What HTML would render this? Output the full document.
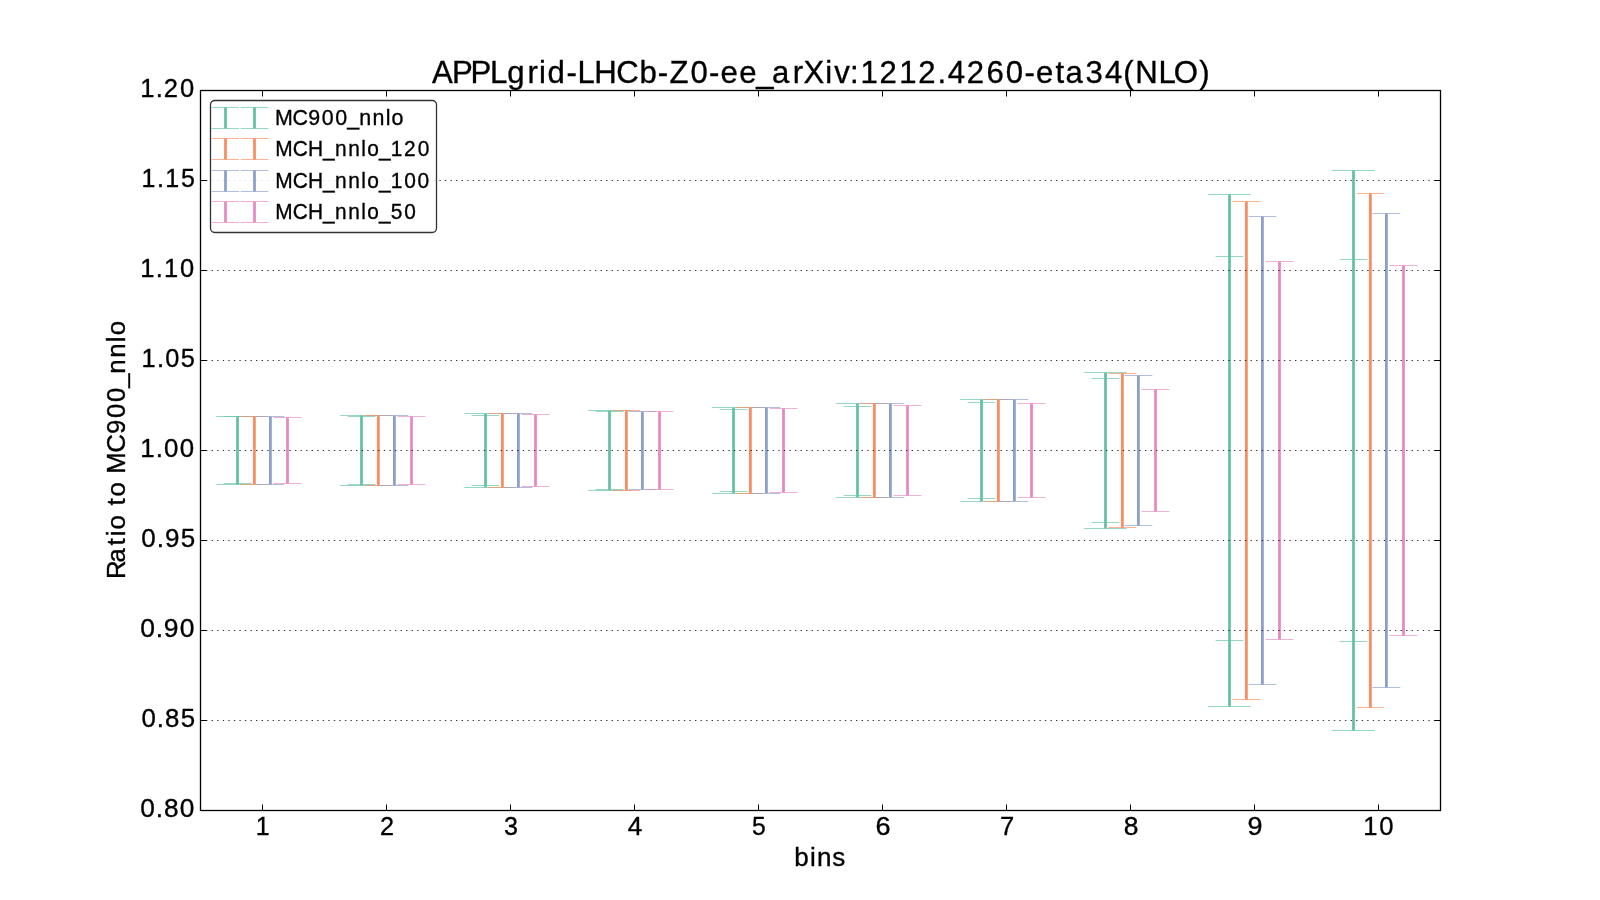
<!DOCTYPE html>
<html><head><meta charset="utf-8"><title>APPLgrid-LHCb-Z0-ee_arXiv:1212.4260-eta34(NLO)</title>
<style>
html,body{margin:0;padding:0;background:#fff;width:1600px;height:900px;overflow:hidden;}
svg{display:block;will-change:transform;}
text{font-family:"Liberation Sans",sans-serif;fill:#000;stroke:#000;stroke-width:0.35px;}
</style></head><body>
<svg width="1600" height="900" viewBox="0 0 1600 900">
<rect x="0" y="0" width="1600" height="900" fill="#fff"/>
<g><line x1="237.50" y1="416.5" x2="237.50" y2="484.5" stroke="#66c2a5" stroke-width="2.8"/><line x1="216.20" y1="416.5" x2="258.80" y2="416.5" stroke="#66c2a5" stroke-width="1.0" stroke-opacity="0.68"/><line x1="216.20" y1="484.5" x2="258.80" y2="484.5" stroke="#66c2a5" stroke-width="1.0" stroke-opacity="0.68"/><line x1="223.60" y1="416.5" x2="251.40" y2="416.5" stroke="#66c2a5" stroke-width="1.0" stroke-opacity="0.68"/><line x1="223.60" y1="483.5" x2="251.40" y2="483.5" stroke="#66c2a5" stroke-width="1.0" stroke-opacity="0.68"/><line x1="254.40" y1="416.5" x2="254.40" y2="484.5" stroke="#fc8d62" stroke-width="2.8"/><line x1="240.50" y1="416.5" x2="268.30" y2="416.5" stroke="#fc8d62" stroke-width="1.0" stroke-opacity="0.68"/><line x1="240.50" y1="484.5" x2="268.30" y2="484.5" stroke="#fc8d62" stroke-width="1.0" stroke-opacity="0.68"/><line x1="270.40" y1="416.5" x2="270.40" y2="484.5" stroke="#8da0cb" stroke-width="2.8"/><line x1="256.50" y1="416.5" x2="284.30" y2="416.5" stroke="#8da0cb" stroke-width="1.0" stroke-opacity="0.68"/><line x1="256.50" y1="484.5" x2="284.30" y2="484.5" stroke="#8da0cb" stroke-width="1.0" stroke-opacity="0.68"/><line x1="287.50" y1="417.5" x2="287.50" y2="483.5" stroke="#e78ac3" stroke-width="2.8"/><line x1="273.60" y1="417.5" x2="301.40" y2="417.5" stroke="#e78ac3" stroke-width="1.0" stroke-opacity="0.68"/><line x1="273.60" y1="483.5" x2="301.40" y2="483.5" stroke="#e78ac3" stroke-width="1.0" stroke-opacity="0.68"/><line x1="361.50" y1="415.5" x2="361.50" y2="485.5" stroke="#66c2a5" stroke-width="2.8"/><line x1="340.20" y1="415.5" x2="382.80" y2="415.5" stroke="#66c2a5" stroke-width="1.0" stroke-opacity="0.68"/><line x1="340.20" y1="485.5" x2="382.80" y2="485.5" stroke="#66c2a5" stroke-width="1.0" stroke-opacity="0.68"/><line x1="347.60" y1="416.5" x2="375.40" y2="416.5" stroke="#66c2a5" stroke-width="1.0" stroke-opacity="0.68"/><line x1="347.60" y1="484.5" x2="375.40" y2="484.5" stroke="#66c2a5" stroke-width="1.0" stroke-opacity="0.68"/><line x1="378.40" y1="415.5" x2="378.40" y2="485.5" stroke="#fc8d62" stroke-width="2.8"/><line x1="364.50" y1="415.5" x2="392.30" y2="415.5" stroke="#fc8d62" stroke-width="1.0" stroke-opacity="0.68"/><line x1="364.50" y1="485.5" x2="392.30" y2="485.5" stroke="#fc8d62" stroke-width="1.0" stroke-opacity="0.68"/><line x1="394.40" y1="415.5" x2="394.40" y2="485.5" stroke="#8da0cb" stroke-width="2.8"/><line x1="380.50" y1="415.5" x2="408.30" y2="415.5" stroke="#8da0cb" stroke-width="1.0" stroke-opacity="0.68"/><line x1="380.50" y1="485.5" x2="408.30" y2="485.5" stroke="#8da0cb" stroke-width="1.0" stroke-opacity="0.68"/><line x1="411.50" y1="416.5" x2="411.50" y2="484.5" stroke="#e78ac3" stroke-width="2.8"/><line x1="397.60" y1="416.5" x2="425.40" y2="416.5" stroke="#e78ac3" stroke-width="1.0" stroke-opacity="0.68"/><line x1="397.60" y1="484.5" x2="425.40" y2="484.5" stroke="#e78ac3" stroke-width="1.0" stroke-opacity="0.68"/><line x1="485.50" y1="413.5" x2="485.50" y2="487.5" stroke="#66c2a5" stroke-width="2.8"/><line x1="464.20" y1="413.5" x2="506.80" y2="413.5" stroke="#66c2a5" stroke-width="1.0" stroke-opacity="0.68"/><line x1="464.20" y1="487.5" x2="506.80" y2="487.5" stroke="#66c2a5" stroke-width="1.0" stroke-opacity="0.68"/><line x1="471.60" y1="415.5" x2="499.40" y2="415.5" stroke="#66c2a5" stroke-width="1.0" stroke-opacity="0.68"/><line x1="471.60" y1="485.5" x2="499.40" y2="485.5" stroke="#66c2a5" stroke-width="1.0" stroke-opacity="0.68"/><line x1="502.40" y1="413.5" x2="502.40" y2="487.5" stroke="#fc8d62" stroke-width="2.8"/><line x1="488.50" y1="413.5" x2="516.30" y2="413.5" stroke="#fc8d62" stroke-width="1.0" stroke-opacity="0.68"/><line x1="488.50" y1="487.5" x2="516.30" y2="487.5" stroke="#fc8d62" stroke-width="1.0" stroke-opacity="0.68"/><line x1="518.40" y1="413.5" x2="518.40" y2="487.5" stroke="#8da0cb" stroke-width="2.8"/><line x1="504.50" y1="413.5" x2="532.30" y2="413.5" stroke="#8da0cb" stroke-width="1.0" stroke-opacity="0.68"/><line x1="504.50" y1="487.5" x2="532.30" y2="487.5" stroke="#8da0cb" stroke-width="1.0" stroke-opacity="0.68"/><line x1="535.50" y1="414.5" x2="535.50" y2="486.5" stroke="#e78ac3" stroke-width="2.8"/><line x1="521.60" y1="414.5" x2="549.40" y2="414.5" stroke="#e78ac3" stroke-width="1.0" stroke-opacity="0.68"/><line x1="521.60" y1="486.5" x2="549.40" y2="486.5" stroke="#e78ac3" stroke-width="1.0" stroke-opacity="0.68"/><line x1="609.50" y1="410.5" x2="609.50" y2="490.5" stroke="#66c2a5" stroke-width="2.8"/><line x1="588.20" y1="410.5" x2="630.80" y2="410.5" stroke="#66c2a5" stroke-width="1.0" stroke-opacity="0.68"/><line x1="588.20" y1="490.5" x2="630.80" y2="490.5" stroke="#66c2a5" stroke-width="1.0" stroke-opacity="0.68"/><line x1="595.60" y1="411.5" x2="623.40" y2="411.5" stroke="#66c2a5" stroke-width="1.0" stroke-opacity="0.68"/><line x1="595.60" y1="489.5" x2="623.40" y2="489.5" stroke="#66c2a5" stroke-width="1.0" stroke-opacity="0.68"/><line x1="626.40" y1="410.5" x2="626.40" y2="490.5" stroke="#fc8d62" stroke-width="2.8"/><line x1="612.50" y1="410.5" x2="640.30" y2="410.5" stroke="#fc8d62" stroke-width="1.0" stroke-opacity="0.68"/><line x1="612.50" y1="490.5" x2="640.30" y2="490.5" stroke="#fc8d62" stroke-width="1.0" stroke-opacity="0.68"/><line x1="642.40" y1="411.5" x2="642.40" y2="489.5" stroke="#8da0cb" stroke-width="2.8"/><line x1="628.50" y1="411.5" x2="656.30" y2="411.5" stroke="#8da0cb" stroke-width="1.0" stroke-opacity="0.68"/><line x1="628.50" y1="489.5" x2="656.30" y2="489.5" stroke="#8da0cb" stroke-width="1.0" stroke-opacity="0.68"/><line x1="659.50" y1="411.5" x2="659.50" y2="489.5" stroke="#e78ac3" stroke-width="2.8"/><line x1="645.60" y1="411.5" x2="673.40" y2="411.5" stroke="#e78ac3" stroke-width="1.0" stroke-opacity="0.68"/><line x1="645.60" y1="489.5" x2="673.40" y2="489.5" stroke="#e78ac3" stroke-width="1.0" stroke-opacity="0.68"/><line x1="733.50" y1="407.5" x2="733.50" y2="493.5" stroke="#66c2a5" stroke-width="2.8"/><line x1="712.20" y1="407.5" x2="754.80" y2="407.5" stroke="#66c2a5" stroke-width="1.0" stroke-opacity="0.68"/><line x1="712.20" y1="493.5" x2="754.80" y2="493.5" stroke="#66c2a5" stroke-width="1.0" stroke-opacity="0.68"/><line x1="719.60" y1="409.5" x2="747.40" y2="409.5" stroke="#66c2a5" stroke-width="1.0" stroke-opacity="0.68"/><line x1="719.60" y1="491.5" x2="747.40" y2="491.5" stroke="#66c2a5" stroke-width="1.0" stroke-opacity="0.68"/><line x1="750.40" y1="407.5" x2="750.40" y2="493.5" stroke="#fc8d62" stroke-width="2.8"/><line x1="736.50" y1="407.5" x2="764.30" y2="407.5" stroke="#fc8d62" stroke-width="1.0" stroke-opacity="0.68"/><line x1="736.50" y1="493.5" x2="764.30" y2="493.5" stroke="#fc8d62" stroke-width="1.0" stroke-opacity="0.68"/><line x1="766.40" y1="407.5" x2="766.40" y2="493.5" stroke="#8da0cb" stroke-width="2.8"/><line x1="752.50" y1="407.5" x2="780.30" y2="407.5" stroke="#8da0cb" stroke-width="1.0" stroke-opacity="0.68"/><line x1="752.50" y1="493.5" x2="780.30" y2="493.5" stroke="#8da0cb" stroke-width="1.0" stroke-opacity="0.68"/><line x1="783.50" y1="408.5" x2="783.50" y2="492.5" stroke="#e78ac3" stroke-width="2.8"/><line x1="769.60" y1="408.5" x2="797.40" y2="408.5" stroke="#e78ac3" stroke-width="1.0" stroke-opacity="0.68"/><line x1="769.60" y1="492.5" x2="797.40" y2="492.5" stroke="#e78ac3" stroke-width="1.0" stroke-opacity="0.68"/><line x1="857.50" y1="403.5" x2="857.50" y2="497.5" stroke="#66c2a5" stroke-width="2.8"/><line x1="836.20" y1="403.5" x2="878.80" y2="403.5" stroke="#66c2a5" stroke-width="1.0" stroke-opacity="0.68"/><line x1="836.20" y1="497.5" x2="878.80" y2="497.5" stroke="#66c2a5" stroke-width="1.0" stroke-opacity="0.68"/><line x1="843.60" y1="406.5" x2="871.40" y2="406.5" stroke="#66c2a5" stroke-width="1.0" stroke-opacity="0.68"/><line x1="843.60" y1="495.5" x2="871.40" y2="495.5" stroke="#66c2a5" stroke-width="1.0" stroke-opacity="0.68"/><line x1="874.40" y1="403.5" x2="874.40" y2="497.5" stroke="#fc8d62" stroke-width="2.8"/><line x1="860.50" y1="403.5" x2="888.30" y2="403.5" stroke="#fc8d62" stroke-width="1.0" stroke-opacity="0.68"/><line x1="860.50" y1="497.5" x2="888.30" y2="497.5" stroke="#fc8d62" stroke-width="1.0" stroke-opacity="0.68"/><line x1="890.40" y1="403.5" x2="890.40" y2="497.5" stroke="#8da0cb" stroke-width="2.8"/><line x1="876.50" y1="403.5" x2="904.30" y2="403.5" stroke="#8da0cb" stroke-width="1.0" stroke-opacity="0.68"/><line x1="876.50" y1="497.5" x2="904.30" y2="497.5" stroke="#8da0cb" stroke-width="1.0" stroke-opacity="0.68"/><line x1="907.50" y1="405.5" x2="907.50" y2="495.5" stroke="#e78ac3" stroke-width="2.8"/><line x1="893.60" y1="405.5" x2="921.40" y2="405.5" stroke="#e78ac3" stroke-width="1.0" stroke-opacity="0.68"/><line x1="893.60" y1="495.5" x2="921.40" y2="495.5" stroke="#e78ac3" stroke-width="1.0" stroke-opacity="0.68"/><line x1="981.50" y1="399.5" x2="981.50" y2="501.5" stroke="#66c2a5" stroke-width="2.8"/><line x1="960.20" y1="399.5" x2="1002.80" y2="399.5" stroke="#66c2a5" stroke-width="1.0" stroke-opacity="0.68"/><line x1="960.20" y1="501.5" x2="1002.80" y2="501.5" stroke="#66c2a5" stroke-width="1.0" stroke-opacity="0.68"/><line x1="967.60" y1="402.5" x2="995.40" y2="402.5" stroke="#66c2a5" stroke-width="1.0" stroke-opacity="0.68"/><line x1="967.60" y1="498.5" x2="995.40" y2="498.5" stroke="#66c2a5" stroke-width="1.0" stroke-opacity="0.68"/><line x1="998.40" y1="399.5" x2="998.40" y2="501.5" stroke="#fc8d62" stroke-width="2.8"/><line x1="984.50" y1="399.5" x2="1012.30" y2="399.5" stroke="#fc8d62" stroke-width="1.0" stroke-opacity="0.68"/><line x1="984.50" y1="501.5" x2="1012.30" y2="501.5" stroke="#fc8d62" stroke-width="1.0" stroke-opacity="0.68"/><line x1="1014.40" y1="399.5" x2="1014.40" y2="501.5" stroke="#8da0cb" stroke-width="2.8"/><line x1="1000.50" y1="399.5" x2="1028.30" y2="399.5" stroke="#8da0cb" stroke-width="1.0" stroke-opacity="0.68"/><line x1="1000.50" y1="501.5" x2="1028.30" y2="501.5" stroke="#8da0cb" stroke-width="1.0" stroke-opacity="0.68"/><line x1="1031.50" y1="403.5" x2="1031.50" y2="497.5" stroke="#e78ac3" stroke-width="2.8"/><line x1="1017.60" y1="403.5" x2="1045.40" y2="403.5" stroke="#e78ac3" stroke-width="1.0" stroke-opacity="0.68"/><line x1="1017.60" y1="497.5" x2="1045.40" y2="497.5" stroke="#e78ac3" stroke-width="1.0" stroke-opacity="0.68"/><line x1="1105.50" y1="372.5" x2="1105.50" y2="528.5" stroke="#66c2a5" stroke-width="2.8"/><line x1="1084.20" y1="372.5" x2="1126.80" y2="372.5" stroke="#66c2a5" stroke-width="1.0" stroke-opacity="0.68"/><line x1="1084.20" y1="528.5" x2="1126.80" y2="528.5" stroke="#66c2a5" stroke-width="1.0" stroke-opacity="0.68"/><line x1="1091.60" y1="378.5" x2="1119.40" y2="378.5" stroke="#66c2a5" stroke-width="1.0" stroke-opacity="0.68"/><line x1="1091.60" y1="522.5" x2="1119.40" y2="522.5" stroke="#66c2a5" stroke-width="1.0" stroke-opacity="0.68"/><line x1="1122.40" y1="373.5" x2="1122.40" y2="527.5" stroke="#fc8d62" stroke-width="2.8"/><line x1="1108.50" y1="373.5" x2="1136.30" y2="373.5" stroke="#fc8d62" stroke-width="1.0" stroke-opacity="0.68"/><line x1="1108.50" y1="527.5" x2="1136.30" y2="527.5" stroke="#fc8d62" stroke-width="1.0" stroke-opacity="0.68"/><line x1="1138.40" y1="375.5" x2="1138.40" y2="525.5" stroke="#8da0cb" stroke-width="2.8"/><line x1="1124.50" y1="375.5" x2="1152.30" y2="375.5" stroke="#8da0cb" stroke-width="1.0" stroke-opacity="0.68"/><line x1="1124.50" y1="525.5" x2="1152.30" y2="525.5" stroke="#8da0cb" stroke-width="1.0" stroke-opacity="0.68"/><line x1="1155.50" y1="389.5" x2="1155.50" y2="511.5" stroke="#e78ac3" stroke-width="2.8"/><line x1="1141.60" y1="389.5" x2="1169.40" y2="389.5" stroke="#e78ac3" stroke-width="1.0" stroke-opacity="0.68"/><line x1="1141.60" y1="511.5" x2="1169.40" y2="511.5" stroke="#e78ac3" stroke-width="1.0" stroke-opacity="0.68"/><line x1="1229.50" y1="194.5" x2="1229.50" y2="706.5" stroke="#66c2a5" stroke-width="2.8"/><line x1="1208.20" y1="194.5" x2="1250.80" y2="194.5" stroke="#66c2a5" stroke-width="1.0" stroke-opacity="0.68"/><line x1="1208.20" y1="706.5" x2="1250.80" y2="706.5" stroke="#66c2a5" stroke-width="1.0" stroke-opacity="0.68"/><line x1="1215.60" y1="256.5" x2="1243.40" y2="256.5" stroke="#66c2a5" stroke-width="1.0" stroke-opacity="0.68"/><line x1="1215.60" y1="640.5" x2="1243.40" y2="640.5" stroke="#66c2a5" stroke-width="1.0" stroke-opacity="0.68"/><line x1="1246.40" y1="201.5" x2="1246.40" y2="699.5" stroke="#fc8d62" stroke-width="2.8"/><line x1="1232.50" y1="201.5" x2="1260.30" y2="201.5" stroke="#fc8d62" stroke-width="1.0" stroke-opacity="0.68"/><line x1="1232.50" y1="699.5" x2="1260.30" y2="699.5" stroke="#fc8d62" stroke-width="1.0" stroke-opacity="0.68"/><line x1="1262.40" y1="216.5" x2="1262.40" y2="684.5" stroke="#8da0cb" stroke-width="2.8"/><line x1="1248.50" y1="216.5" x2="1276.30" y2="216.5" stroke="#8da0cb" stroke-width="1.0" stroke-opacity="0.68"/><line x1="1248.50" y1="684.5" x2="1276.30" y2="684.5" stroke="#8da0cb" stroke-width="1.0" stroke-opacity="0.68"/><line x1="1279.50" y1="261.5" x2="1279.50" y2="639.5" stroke="#e78ac3" stroke-width="2.8"/><line x1="1265.60" y1="261.5" x2="1293.40" y2="261.5" stroke="#e78ac3" stroke-width="1.0" stroke-opacity="0.68"/><line x1="1265.60" y1="639.5" x2="1293.40" y2="639.5" stroke="#e78ac3" stroke-width="1.0" stroke-opacity="0.68"/><line x1="1353.50" y1="170.5" x2="1353.50" y2="730.5" stroke="#66c2a5" stroke-width="2.8"/><line x1="1332.20" y1="170.5" x2="1374.80" y2="170.5" stroke="#66c2a5" stroke-width="1.0" stroke-opacity="0.68"/><line x1="1332.20" y1="730.5" x2="1374.80" y2="730.5" stroke="#66c2a5" stroke-width="1.0" stroke-opacity="0.68"/><line x1="1339.60" y1="259.5" x2="1367.40" y2="259.5" stroke="#66c2a5" stroke-width="1.0" stroke-opacity="0.68"/><line x1="1339.60" y1="641.5" x2="1367.40" y2="641.5" stroke="#66c2a5" stroke-width="1.0" stroke-opacity="0.68"/><line x1="1370.40" y1="193.5" x2="1370.40" y2="707.5" stroke="#fc8d62" stroke-width="2.8"/><line x1="1356.50" y1="193.5" x2="1384.30" y2="193.5" stroke="#fc8d62" stroke-width="1.0" stroke-opacity="0.68"/><line x1="1356.50" y1="707.5" x2="1384.30" y2="707.5" stroke="#fc8d62" stroke-width="1.0" stroke-opacity="0.68"/><line x1="1386.40" y1="213.5" x2="1386.40" y2="687.5" stroke="#8da0cb" stroke-width="2.8"/><line x1="1372.50" y1="213.5" x2="1400.30" y2="213.5" stroke="#8da0cb" stroke-width="1.0" stroke-opacity="0.68"/><line x1="1372.50" y1="687.5" x2="1400.30" y2="687.5" stroke="#8da0cb" stroke-width="1.0" stroke-opacity="0.68"/><line x1="1403.50" y1="265.5" x2="1403.50" y2="635.5" stroke="#e78ac3" stroke-width="2.8"/><line x1="1389.60" y1="265.5" x2="1417.40" y2="265.5" stroke="#e78ac3" stroke-width="1.0" stroke-opacity="0.68"/><line x1="1389.60" y1="635.5" x2="1417.40" y2="635.5" stroke="#e78ac3" stroke-width="1.0" stroke-opacity="0.68"/></g>
<g><line x1="200.5" y1="180.5" x2="1440.5" y2="180.5" stroke="#000" stroke-width="1" stroke-dasharray="1.3889 4.1667" stroke-opacity="0.78"/><line x1="200.5" y1="270.5" x2="1440.5" y2="270.5" stroke="#000" stroke-width="1" stroke-dasharray="1.3889 4.1667" stroke-opacity="0.78"/><line x1="200.5" y1="360.5" x2="1440.5" y2="360.5" stroke="#000" stroke-width="1" stroke-dasharray="1.3889 4.1667" stroke-opacity="0.78"/><line x1="200.5" y1="450.5" x2="1440.5" y2="450.5" stroke="#000" stroke-width="1" stroke-dasharray="1.3889 4.1667" stroke-opacity="0.78"/><line x1="200.5" y1="540.5" x2="1440.5" y2="540.5" stroke="#000" stroke-width="1" stroke-dasharray="1.3889 4.1667" stroke-opacity="0.78"/><line x1="200.5" y1="630.5" x2="1440.5" y2="630.5" stroke="#000" stroke-width="1" stroke-dasharray="1.3889 4.1667" stroke-opacity="0.78"/><line x1="200.5" y1="720.5" x2="1440.5" y2="720.5" stroke="#000" stroke-width="1" stroke-dasharray="1.3889 4.1667" stroke-opacity="0.78"/></g>
<g><line x1="200.5" y1="90.5" x2="206.5" y2="90.5" stroke="#000" stroke-width="1"/><line x1="1434.5" y1="90.5" x2="1440.5" y2="90.5" stroke="#000" stroke-width="1"/><line x1="200.5" y1="180.5" x2="206.5" y2="180.5" stroke="#000" stroke-width="1"/><line x1="1434.5" y1="180.5" x2="1440.5" y2="180.5" stroke="#000" stroke-width="1"/><line x1="200.5" y1="270.5" x2="206.5" y2="270.5" stroke="#000" stroke-width="1"/><line x1="1434.5" y1="270.5" x2="1440.5" y2="270.5" stroke="#000" stroke-width="1"/><line x1="200.5" y1="360.5" x2="206.5" y2="360.5" stroke="#000" stroke-width="1"/><line x1="1434.5" y1="360.5" x2="1440.5" y2="360.5" stroke="#000" stroke-width="1"/><line x1="200.5" y1="450.5" x2="206.5" y2="450.5" stroke="#000" stroke-width="1"/><line x1="1434.5" y1="450.5" x2="1440.5" y2="450.5" stroke="#000" stroke-width="1"/><line x1="200.5" y1="540.5" x2="206.5" y2="540.5" stroke="#000" stroke-width="1"/><line x1="1434.5" y1="540.5" x2="1440.5" y2="540.5" stroke="#000" stroke-width="1"/><line x1="200.5" y1="630.5" x2="206.5" y2="630.5" stroke="#000" stroke-width="1"/><line x1="1434.5" y1="630.5" x2="1440.5" y2="630.5" stroke="#000" stroke-width="1"/><line x1="200.5" y1="720.5" x2="206.5" y2="720.5" stroke="#000" stroke-width="1"/><line x1="1434.5" y1="720.5" x2="1440.5" y2="720.5" stroke="#000" stroke-width="1"/><line x1="200.5" y1="810.5" x2="206.5" y2="810.5" stroke="#000" stroke-width="1"/><line x1="1434.5" y1="810.5" x2="1440.5" y2="810.5" stroke="#000" stroke-width="1"/><line x1="262.5" y1="90.5" x2="262.5" y2="96.5" stroke="#000" stroke-width="1"/><line x1="262.5" y1="804.5" x2="262.5" y2="810.5" stroke="#000" stroke-width="1"/><line x1="386.5" y1="90.5" x2="386.5" y2="96.5" stroke="#000" stroke-width="1"/><line x1="386.5" y1="804.5" x2="386.5" y2="810.5" stroke="#000" stroke-width="1"/><line x1="510.5" y1="90.5" x2="510.5" y2="96.5" stroke="#000" stroke-width="1"/><line x1="510.5" y1="804.5" x2="510.5" y2="810.5" stroke="#000" stroke-width="1"/><line x1="634.5" y1="90.5" x2="634.5" y2="96.5" stroke="#000" stroke-width="1"/><line x1="634.5" y1="804.5" x2="634.5" y2="810.5" stroke="#000" stroke-width="1"/><line x1="758.5" y1="90.5" x2="758.5" y2="96.5" stroke="#000" stroke-width="1"/><line x1="758.5" y1="804.5" x2="758.5" y2="810.5" stroke="#000" stroke-width="1"/><line x1="882.5" y1="90.5" x2="882.5" y2="96.5" stroke="#000" stroke-width="1"/><line x1="882.5" y1="804.5" x2="882.5" y2="810.5" stroke="#000" stroke-width="1"/><line x1="1006.5" y1="90.5" x2="1006.5" y2="96.5" stroke="#000" stroke-width="1"/><line x1="1006.5" y1="804.5" x2="1006.5" y2="810.5" stroke="#000" stroke-width="1"/><line x1="1130.5" y1="90.5" x2="1130.5" y2="96.5" stroke="#000" stroke-width="1"/><line x1="1130.5" y1="804.5" x2="1130.5" y2="810.5" stroke="#000" stroke-width="1"/><line x1="1254.5" y1="90.5" x2="1254.5" y2="96.5" stroke="#000" stroke-width="1"/><line x1="1254.5" y1="804.5" x2="1254.5" y2="810.5" stroke="#000" stroke-width="1"/><line x1="1378.5" y1="90.5" x2="1378.5" y2="96.5" stroke="#000" stroke-width="1"/><line x1="1378.5" y1="804.5" x2="1378.5" y2="810.5" stroke="#000" stroke-width="1"/></g>
<rect x="200.5" y="90.5" width="1240" height="720" fill="none" stroke="#000" stroke-width="1.3"/>
<g><text x="437.13 457.49 476.07 495.82 513.33 533.77 545.53 554.12 573.17 584.45 601.34 623.52 647.04 665.69 677.42 698.64 717.52 729.11 748.06 765.25 781.18 802.23 813.20 835.10 844.11 860.24 870.68 890.03 909.89 929.24 948.72 959.03 978.24 998.25 1017.85 1036.73 1048.32 1068.08 1078.11 1098.53 1118.09 1136.64 1148.83 1172.22 1187.69 1213.61" y="0" font-size="31.5" transform="translate(0 83) scale(0.9882 1)">APPLgrid-LHCb-Z0-ee_arXiv:1212.4260-eta34(NLO)</text><text x="142.82 158.60 166.70 183.09" y="0" font-size="26" transform="translate(0 97) scale(0.9826 1)">1.20</text><text x="147.21 163.25 171.82 188.26" y="0" font-size="26" transform="translate(0 187) scale(0.9613 1)">1.15</text><text x="143.20 159.01 167.34 183.56" y="0" font-size="26" transform="translate(0 277) scale(0.9801 1)">1.10</text><text x="144.90 160.76 169.27 185.34" y="0" font-size="26" transform="translate(0 367) scale(0.9759 1)">1.05</text><text x="141.08 156.73 165.02 180.89" y="0" font-size="26" transform="translate(0 457) scale(0.9941 1)">1.00</text><text x="141.42 156.87 165.02 180.79" y="0" font-size="26" transform="translate(0 547) scale(0.9995 1)">0.95</text><text x="137.83 153.07 161.01 176.60" y="0" font-size="26" transform="translate(0 637) scale(1.0173 1)">0.90</text><text x="142.42 157.95 166.25 182.05" y="0" font-size="26" transform="translate(0 727) scale(0.9928 1)">0.85</text><text x="138.80 154.12 162.21 177.83" y="0" font-size="26" transform="translate(0 817) scale(1.0105 1)">0.80</text><text x="266.28" y="0" font-size="26" transform="translate(0 835) scale(0.9603 1)">1</text><text x="392.08" y="0" font-size="26" transform="translate(0 835) scale(0.9692 1)">2</text><text x="522.03" y="0" font-size="26" transform="translate(0 835) scale(0.9656 1)">3</text><text x="624.31" y="0" font-size="26" transform="translate(0 835) scale(1.0056 1)">4</text><text x="792.64" y="0" font-size="26" transform="translate(0 835) scale(0.9489 1)">5</text><text x="841.19" y="0" font-size="26" transform="translate(0 835) scale(1.0407 1)">6</text><text x="1016.59" y="0" font-size="26" transform="translate(0 835) scale(0.9836 1)">7</text><text x="1105.55" y="0" font-size="26" transform="translate(0 835) scale(1.0164 1)">8</text><text x="1201.20" y="0" font-size="26" transform="translate(0 835) scale(1.0385 1)">9</text><text x="1385.39 1401.56" y="0" font-size="26" transform="translate(0 835) scale(0.9841 1)">10</text><text x="778.64 793.94 800.89 815.88" y="0" font-size="25.5" transform="translate(0 866) scale(1.0201 1)">bins</text><text x="317.15 333.55 350.37 359.43 366.16 381.18 389.89 398.81 413.84 421.35 441.91 460.56 476.36 492.08 506.17 520.18 535.84 551.31 558.05" y="0" font-size="25.5" transform="translate(124.7 900) rotate(-90) scale(1.0119 1)">Ratio to MC900_nnlo</text></g>
<g><rect x="210.5" y="100.5" width="226" height="132" rx="4.2" ry="4.2" fill="#fff" fill-opacity="0.85" stroke="#333" stroke-width="1.3"/><line x1="225.5" y1="107.50" x2="225.5" y2="128.50" stroke="#66c2a5" stroke-width="2.8"/><line x1="254.5" y1="107.50" x2="254.5" y2="128.50" stroke="#66c2a5" stroke-width="2.8"/><line x1="211.5" y1="107.50" x2="239.2" y2="107.50" stroke="#66c2a5" stroke-width="1.0" stroke-opacity="0.68"/><line x1="211.5" y1="128.50" x2="239.2" y2="128.50" stroke="#66c2a5" stroke-width="1.0" stroke-opacity="0.68"/><line x1="240.6" y1="107.50" x2="268.4" y2="107.50" stroke="#66c2a5" stroke-width="1.0" stroke-opacity="0.68"/><line x1="240.6" y1="128.50" x2="268.4" y2="128.50" stroke="#66c2a5" stroke-width="1.0" stroke-opacity="0.68"/><text x="289.00 307.39 324.07 338.21 352.28 364.90 377.45 391.47 405.26 411.35" y="0" font-size="22.5" transform="translate(0 124.8) scale(0.9516 1)">MC900_nnlo</text><line x1="225.5" y1="138.50" x2="225.5" y2="159.50" stroke="#fc8d62" stroke-width="2.8"/><line x1="254.5" y1="138.50" x2="254.5" y2="159.50" stroke="#fc8d62" stroke-width="2.8"/><line x1="211.5" y1="138.50" x2="239.2" y2="138.50" stroke="#fc8d62" stroke-width="1.0" stroke-opacity="0.68"/><line x1="211.5" y1="159.50" x2="239.2" y2="159.50" stroke="#fc8d62" stroke-width="1.0" stroke-opacity="0.68"/><line x1="240.6" y1="138.50" x2="268.4" y2="138.50" stroke="#fc8d62" stroke-width="1.0" stroke-opacity="0.68"/><line x1="240.6" y1="159.50" x2="268.4" y2="159.50" stroke="#fc8d62" stroke-width="1.0" stroke-opacity="0.68"/><text x="296.32 315.13 331.68 347.78 360.64 375.00 389.04 395.37 408.01 420.73 434.95 449.67" y="0" font-size="22.5" transform="translate(0 155.9) scale(0.9288 1)">MCH_nnlo_120</text><line x1="225.5" y1="170.50" x2="225.5" y2="191.50" stroke="#8da0cb" stroke-width="2.8"/><line x1="254.5" y1="170.50" x2="254.5" y2="191.50" stroke="#8da0cb" stroke-width="2.8"/><line x1="211.5" y1="170.50" x2="239.2" y2="170.50" stroke="#8da0cb" stroke-width="1.0" stroke-opacity="0.68"/><line x1="211.5" y1="191.50" x2="239.2" y2="191.50" stroke="#8da0cb" stroke-width="1.0" stroke-opacity="0.68"/><line x1="240.6" y1="170.50" x2="268.4" y2="170.50" stroke="#8da0cb" stroke-width="1.0" stroke-opacity="0.68"/><line x1="240.6" y1="191.50" x2="268.4" y2="191.50" stroke="#8da0cb" stroke-width="1.0" stroke-opacity="0.68"/><text x="295.33 314.09 330.58 346.64 359.45 373.77 387.78 394.07 406.67 419.35 433.83 448.20" y="0" font-size="22.5" transform="translate(0 187.9) scale(0.9318 1)">MCH_nnlo_100</text><line x1="225.5" y1="201.50" x2="225.5" y2="222.50" stroke="#e78ac3" stroke-width="2.8"/><line x1="254.5" y1="201.50" x2="254.5" y2="222.50" stroke="#e78ac3" stroke-width="2.8"/><line x1="211.5" y1="201.50" x2="239.2" y2="201.50" stroke="#e78ac3" stroke-width="1.0" stroke-opacity="0.68"/><line x1="211.5" y1="222.50" x2="239.2" y2="222.50" stroke="#e78ac3" stroke-width="1.0" stroke-opacity="0.68"/><line x1="240.6" y1="201.50" x2="268.4" y2="201.50" stroke="#e78ac3" stroke-width="1.0" stroke-opacity="0.68"/><line x1="240.6" y1="222.50" x2="268.4" y2="222.50" stroke="#e78ac3" stroke-width="1.0" stroke-opacity="0.68"/><text x="297.22 316.08 332.68 348.82 361.72 376.12 390.19 396.55 409.22 422.00 436.55" y="0" font-size="22.5" transform="translate(0 218.8) scale(0.9261 1)">MCH_nnlo_50</text></g>
</svg>
</body></html>
